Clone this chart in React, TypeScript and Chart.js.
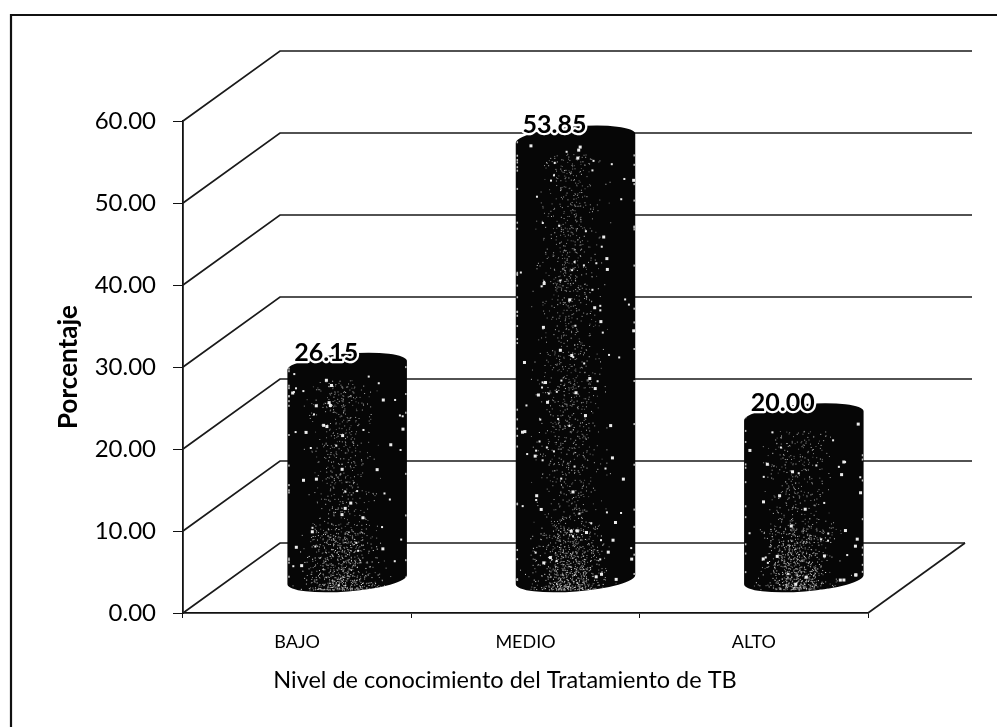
import React, { useEffect, useRef } from "react";
import { Chart, registerables } from "chart.js";

Chart.register(...registerables);

const categories = ["BAJO", "MEDIO", "ALTO"];
const porcentaje = [26.15, 53.85, 20.0];
const yTitle = "Porcentaje";
const xTitle = "Nivel de conocimiento del Tratamiento de TB";
const FONT = "Lato, Carlito, 'Noto Sans', sans-serif";

function lcg(seed: number) {
  let s = seed >>> 0;
  return () => {
    s = (Math.imul(s, 1664525) + 1013904223) >>> 0;
    return s / 4294967296;
  };
}

const wallPlugin = {
  id: "wall",
  beforeDatasetsDraw(chart: any) {
    const { ctx, chartArea: a, scales } = chart;
    const y = scales.y;
    const dx = 97;
    const dy = 70;
    ctx.save();
    // frame of the picture (open at right and bottom, as in the scan)
    ctx.strokeStyle = "#111";
    ctx.lineWidth = 2.2;
    ctx.beginPath();
    ctx.moveTo(997, 15);
    ctx.lineTo(11, 15);
    ctx.lineTo(11, 727);
    ctx.stroke();
    // walls
    ctx.lineWidth = 1.7;
    ctx.strokeStyle = "#1a1a1a";
    y.ticks.forEach((t: any) => {
      const py = y.getPixelForValue(t.value);
      ctx.beginPath();
      ctx.moveTo(a.left, py);
      ctx.lineTo(a.left + dx, py - dy);
      ctx.lineTo(t.value === 0 ? a.right + dx : a.right + 104, py - dy);
      ctx.stroke();
    });
    // floor edge at right
    ctx.beginPath();
    ctx.moveTo(a.right, a.bottom);
    ctx.lineTo(a.right + dx, a.bottom - dy);
    ctx.stroke();
    ctx.restore();
  },
};

const cylinderPlugin = {
  id: "cylinder",
  afterDatasetsDraw(chart: any) {
    const { ctx } = chart;
    const meta = chart.getDatasetMeta(0);
    const ox = 50;
    const oy = 33;
    const rot = (-4.5 * Math.PI) / 180;
    const ry = 12;
    meta.data.forEach((el: any, i: number) => {
      const cx = el.x + ox;
      const top = el.y - oy;
      const bottom = el.base - oy;
      const rx = el.width / 2;
      ctx.save();
      ctx.beginPath();
      ctx.ellipse(cx, bottom, rx, ry, rot, 0, Math.PI);
      ctx.lineTo(cx - rx * Math.cos(rot), top - rx * Math.sin(rot));
      ctx.ellipse(cx, top, rx, ry, rot, Math.PI, 2 * Math.PI);
      ctx.closePath();
      ctx.fillStyle = "#060606";
      ctx.fill();
      ctx.clip();
      const rnd = lcg(17 + i * 101);
      const h = bottom - top;
      // fine grey dotting down the lit centre of the cylinder
      const fine = Math.round(h * 3.2);
      for (let k = 0; k < fine; k++) {
        const sx = (rnd() + rnd() + rnd() - 1.5) * 30 - 6;
        const py = top + 14 + rnd() * (h - 6);
        const v = 90 + Math.floor(rnd() * 110);
        ctx.fillStyle = `rgb(${v},${v},${v})`;
        ctx.fillRect(cx + sx, py, 1, 1);
      }
      // denser, brighter patch near the foot
      for (let k = 0; k < 520; k++) {
        const sx = (rnd() + rnd() + rnd() - 1.5) * 36 - 6;
        const py = bottom + 10 - Math.pow(rnd(), 1.7) * 62;
        const v = 110 + Math.floor(rnd() * 130);
        ctx.fillStyle = `rgb(${v},${v},${v})`;
        ctx.fillRect(cx + sx, py, 1, 1);
      }
      // scattered white flecks
      const flecks = Math.round(h / 4);
      for (let k = 0; k < flecks; k++) {
        const px = cx - rx + 3 + rnd() * (2 * rx - 6);
        const py = top + 4 + rnd() * (h + 2);
        const s = rnd() > 0.6 ? 3 : 2;
        ctx.fillStyle = "#ececec";
        ctx.fillRect(px, py, s, s);
      }
      // rough light edge flecks
      for (let k = 0; k < h / 9; k++) {
        const left = rnd() > 0.35;
        ctx.fillStyle = "#bdbdbd";
        ctx.fillRect(left ? cx - rx + 1 : cx + rx - 2, top + rnd() * h, 1.5, 2);
      }
      ctx.restore();
    });
  },
  afterDraw(chart: any) {
    const { ctx, chartArea: a } = chart;
    const meta = chart.getDatasetMeta(0);
    ctx.save();
    ctx.textAlign = "center";
    ctx.textBaseline = "middle";
    ctx.lineJoin = "round";
    // value labels with a white halo
    ctx.font = `700 25px ${FONT}`;
    meta.data.forEach((el: any, i: number) => {
      const text = porcentaje[i].toFixed(2);
      const px = el.x + 29;
      const py = el.y - 33 - 13;
      ctx.strokeStyle = "#fff";
      ctx.lineWidth = 4.5;
      ctx.strokeText(text, px, py);
      ctx.fillStyle = "#000";
      ctx.fillText(text, px, py);
    });
    // x axis title
    ctx.font = `400 23.5px ${FONT}`;
    ctx.fillStyle = "#000";
    ctx.fillText(xTitle, a.left + 322, 680);
    ctx.restore();
  },
};

export default function App() {
  const ref = useRef<HTMLCanvasElement>(null);
  useEffect(() => {
    const chart = new Chart(ref.current as HTMLCanvasElement, {
      type: "bar",
      data: {
        labels: categories,
        datasets: [
          {
            label: yTitle,
            data: porcentaje,
            backgroundColor: "rgba(0,0,0,0)",
            borderWidth: 0,
            barPercentage: 1,
            categoryPercentage: 0.525,
          },
        ],
      },
      plugins: [wallPlugin, cylinderPlugin],
      options: {
        responsive: false,
        animation: false,
        layout: { padding: { left: 0, right: 129, top: 121, bottom: 34 } },
        plugins: { legend: { display: false }, tooltip: { enabled: false } },
        scales: {
          x: {
            border: { color: "#111", width: 1.8 },
            grid: { drawOnChartArea: false, color: "#111", tickLength: 5 },
            ticks: { color: "#000", font: { family: FONT, size: 18 }, padding: 13, maxRotation: 0 },
            afterFit: (s: any) => {
              s.height = 80;
            },
          },
          y: {
            min: 0,
            max: 60,
            border: { color: "#111", width: 1.8 },
            grid: { drawOnChartArea: false, color: "#111", tickLength: 10 },
            ticks: {
              stepSize: 10,
              color: "#000",
              font: { family: FONT, size: 24 },
              padding: 17,
              callback: (v: any) => Number(v).toFixed(2),
            },
            title: {
              display: true,
              text: yTitle,
              color: "#000",
              font: { family: FONT, size: 26, weight: "bold" },
              padding: { top: 53, bottom: 0 },
            },
            afterFit: (s: any) => {
              s.width = 183;
            },
          },
        },
      },
    } as any);
    return () => chart.destroy();
  }, []);
  return (
    <div style={{ position: "fixed", left: 0, top: 0, width: 997, height: 727, background: "#fff" }}>
      <canvas ref={ref} width={997} height={727} style={{ display: "block" }} />
    </div>
  );
}
